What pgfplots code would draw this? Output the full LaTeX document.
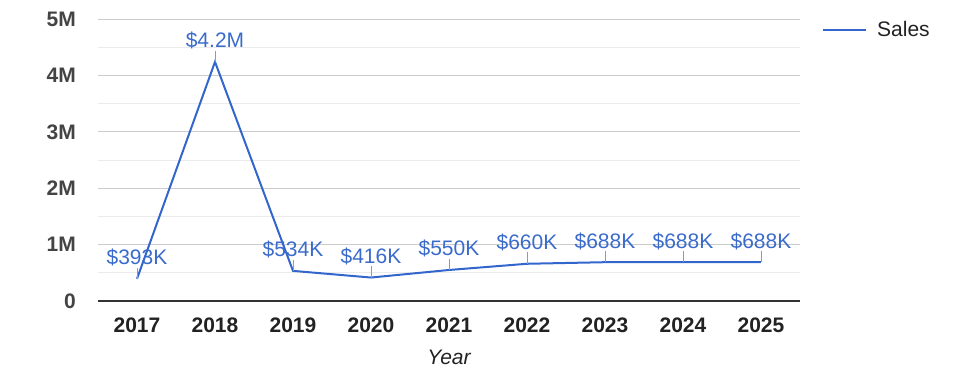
\documentclass[border=0pt]{standalone}
\usepackage{fontspec}
\setmainfont{Liberation Sans}
\usepackage{pgfplots}
\pgfplotsset{compat=1.18}
\definecolor{sblue}{HTML}{3366CC}
\definecolor{lblue}{HTML}{3A6BCB}
\definecolor{gmaj}{HTML}{CCCCCC}
\definecolor{gmin}{HTML}{EBEBEB}
\definecolor{tdark}{HTML}{222222}
\definecolor{tgrey}{HTML}{444444}
\definecolor{axl}{HTML}{333333}
\definecolor{lead}{HTML}{999999}
\begin{document}
\begin{tikzpicture}[font=\fontsize{21bp}{25bp}\selectfont]
\begin{axis}[
  at={(98bp,77bp)}, anchor=south west,
  scale only axis, width=702bp, height=282bp,
  xmin=-0.5, xmax=8.5, ymin=0, ymax=5e6,
  axis line style={draw=none},
  major tick length=0pt, minor tick length=0pt,
  scaled y ticks=false,
  xtick={0,1,2,3,4,5,6,7,8},
  xticklabels={2017,2018,2019,2020,2021,2022,2023,2024,2025},
  xticklabel style={font=\fontsize{21bp}{25bp}\selectfont\bfseries, text=tdark, anchor=base, inner sep=0pt, yshift=-31bp},
  ytick={1e6,2e6,3e6,4e6,5e6},
  yticklabels={1M,2M,3M,4M,5M},
  minor ytick={5e5,1.5e6,2.5e6,3.5e6,4.5e6},
  extra y ticks={0},
  extra y tick labels={0},
  extra y tick style={major grid style={color=axl, line width=1.3bp}},
  yticklabel style={font=\fontsize{21bp}{25bp}\selectfont\bfseries, text=tgrey, anchor=east, inner sep=0pt, xshift=-22bp},
  ymajorgrids, yminorgrids,
  major grid style={color=gmaj, line width=1bp},
  minor grid style={color=gmin, line width=1bp},
  xlabel={\itshape Year},
  xlabel style={at={(axis description cs:0.5,0)}, anchor=base, inner sep=0pt, yshift=-63bp, text=tdark},
  legend style={at={(1.0313,0.961)}, anchor=west, draw=none, fill=none, inner sep=0pt, text=tdark,
    nodes={inner sep=0pt}, column sep=10bp},
  legend image code/.code={\draw[#1] (0bp,0bp) -- (43bp,0bp);},
]
\addplot[color=sblue, line width=2bp, mark=none,
  nodes near coords, point meta=explicit symbolic,
  every node near coord/.append style={text=lblue, anchor=base, inner sep=0pt, yshift=14bp},
  error bars/.cd, y dir=plus, y fixed=2e5, error mark=none,
  error bar style={color=lead, line width=0.8bp}]
coordinates {
  (0,393000) [\$393K]
  (1,4240000) [\$4.2M]
  (2,534000) [\$534K]
  (3,416000) [\$416K]
  (4,550000) [\$550K]
  (5,660000) [\$660K]
  (6,688000) [\$688K]
  (7,688000) [\$688K]
  (8,688000) [\$688K]
};
\addlegendentry{Sales}
\end{axis}
\pgfresetboundingbox
\path (0,0) rectangle (975bp,378bp);
\end{tikzpicture}
\end{document}
